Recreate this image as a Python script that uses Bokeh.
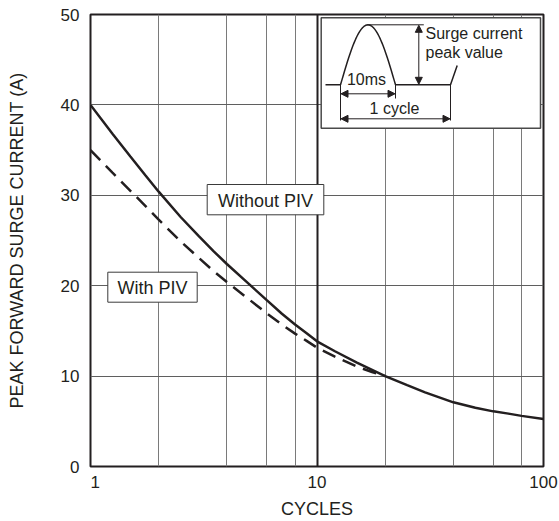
import numpy as np
from bokeh.plotting import figure
from bokeh.models import (Range1d, LinearScale, FixedTicker, Grid, Arrow, NormalHead,
                          BasicTickFormatter)
from bokeh.core.properties import value
from bokeh.embed import file_html
from bokeh.resources import INLINE

# ---- chart data ----
cycles_without = [1, 1.25, 1.5, 1.75, 2, 2.5, 3, 3.5, 4, 5, 6, 7, 8, 9, 10, 12, 15, 20,
                  25, 30, 40, 50, 60, 70, 80, 100]
surge_without = [40, 36.8, 34.3, 32.2, 30.4, 27.6, 25.5, 23.8, 22.4, 20.2, 18.4, 16.9, 15.7,
                 14.75, 13.85, 12.75, 11.5, 10.0, 9.0, 8.2, 7.1, 6.5, 6.1, 5.85, 5.6, 5.25]
cycles_with = [1, 1.25, 1.5, 1.75, 2, 2.5, 3, 3.5, 4, 5, 6, 7, 8, 9, 10, 12, 15, 17.5, 20]
surge_with = [35, 32.5, 30.5, 28.8, 27.3, 24.9, 23.1, 21.6, 20.4, 18.5, 16.95, 15.7, 14.7,
              13.9, 13.15, 12.15, 11.05, 10.45, 10.0]

x_ticks = [1, 10, 100]
y_ticks = [0, 10, 20, 30, 40, 50]
x_grid = [2, 4, 6, 8, 20, 40, 60, 80]
x_major_grid = [10]
y_grid = [10, 20, 30, 40]

FONT = "Liberation Sans"
INK = "#231f20"
GRID = "#7a7a7a"

p = figure(width=559, height=521, x_axis_type="log",
           x_range=Range1d(1, 100), y_range=Range1d(0, 50),
           output_backend="svg", toolbar_location=None,
           min_border_left=90, min_border_right=16, min_border_top=14, min_border_bottom=55)

p.outline_line_color = INK
p.outline_line_width = 2
p.background_fill_color = "white"
p.border_fill_color = "white"

# grids
p.xgrid.ticker = FixedTicker(ticks=x_grid)
p.xgrid.grid_line_color = GRID
p.xgrid.grid_line_width = 1
p.ygrid.ticker = FixedTicker(ticks=y_grid)
p.ygrid.grid_line_color = "#5f5f5f"
p.ygrid.grid_line_width = 1
g10 = Grid(dimension=0, ticker=FixedTicker(ticks=x_major_grid), grid_line_color=INK, grid_line_width=2)
p.add_layout(g10)

# axes
for ax in (p.xaxis[0], p.yaxis[0]):
    ax.axis_line_color = None
    ax.major_tick_line_color = None
    ax.minor_tick_line_color = None
    ax.major_label_text_font = FONT
    ax.major_label_text_font_size = "17px"
    ax.major_label_text_color = INK
    ax.axis_label_text_font = FONT
    ax.axis_label_text_font_size = "18px"
    ax.axis_label_text_font_style = "normal"
    ax.axis_label_text_color = INK

p.xaxis.ticker = FixedTicker(ticks=x_ticks)
p.xaxis.formatter = BasicTickFormatter()
p.xaxis.major_label_overrides = {1: "\u20071"}
p.xaxis.major_label_standoff = 0
p.xaxis.axis_label = "CYCLES"
p.xaxis.axis_label_standoff = 4

p.yaxis.ticker = FixedTicker(ticks=y_ticks)
p.yaxis.major_label_standoff = 5
p.yaxis.axis_label = "PEAK FORWARD SURGE CURRENT (A)"
p.yaxis.axis_label_standoff = 31

# curves
p.line(cycles_without, surge_without, line_color=INK, line_width=2.5)
p.line(cycles_with, surge_with, line_color=INK, line_width=2.5, line_dash="14 8")

# ---- pixel-space range for annotations (inset diagram and label boxes) ----
p.extra_x_ranges = {"px": Range1d(90, 543)}
p.extra_y_ranges = {"px": Range1d(466, 14)}
p.extra_x_scales = {"px": LinearScale()}
p.extra_y_scales = {"px": LinearScale()}
R = dict(x_range_name="px", y_range_name="px")

# label boxes
box_labels = ["Without PIV", "With PIV"]
box_left = [206.7, 107.3]
box_right = [323.3, 196.7]
box_top = [184.0, 271.7]
box_bottom = [214.3, 301.7]
p.quad(left=box_left, right=box_right, top=box_top, bottom=box_bottom,
       fill_color="white", line_color="#3a3a3a", line_width=1, **R)
p.text(x=[(l + r) / 2 for l, r in zip(box_left, box_right)],
       y=[(t + b) / 2 + 1 for t, b in zip(box_top, box_bottom)],
       text=box_labels, text_font=value(FONT), text_font_size="18px",
       text_color=INK, text_align="center", text_baseline="middle", **R)

# inset frame
p.quad(left=[320.7], right=[540.0], top=[17.3], bottom=[127.7],
       fill_color="white", line_color="#4a4a4a", line_width=1.5, **R)

# waveform: baseline, half-sine pulse, baseline, start of next pulse
t = np.linspace(0, 1, 41)
pulse_x = list(340 + 55 * t)
pulse_y = list(84.3 - 60 * np.sin(np.pi * t))
wave_x = [325] + pulse_x + [450, 456.7]
wave_y = [84.3] + pulse_y + [84.3, 65]
p.line(wave_x, wave_y, line_color=INK, line_width=1.5, **R)

# peak reference line and extension ticks
p.segment(x0=[368.3, 340, 395, 450], y0=[24.3, 84.3, 84.3, 84.3],
          x1=[423.3, 340, 395, 450], y1=[24.3, 120, 98, 120],
          line_color=INK, line_width=1, **R)

for xs, ys, xe, ye in [(418.3, 24.8, 418.3, 83.8), (340.5, 93.3, 394.5, 93.3),
                       (340.5, 118.3, 449.5, 118.3)]:
    p.add_layout(Arrow(x_start=xs, y_start=ys, x_end=xe, y_end=ye,
                       start=NormalHead(size=7, fill_color=INK, line_color=INK, line_width=1),
                       end=NormalHead(size=7, fill_color=INK, line_color=INK, line_width=1),
                       line_color=INK, line_width=1, **R))

p.text(x=[425, 425], y=[33, 51.5], text=["Surge current", "peak value"],
       text_font=value(FONT), text_font_size="16px", text_color=INK,
       text_align="left", text_baseline="middle", **R)
p.text(x=[366, 394], y=[79, 108], text=["10ms", "1 cycle"],
       text_font=value(FONT), text_font_size="16px", text_color=INK,
       text_align="center", text_baseline="middle", **R)

open("out.html", "w").write(file_html(p, INLINE))
